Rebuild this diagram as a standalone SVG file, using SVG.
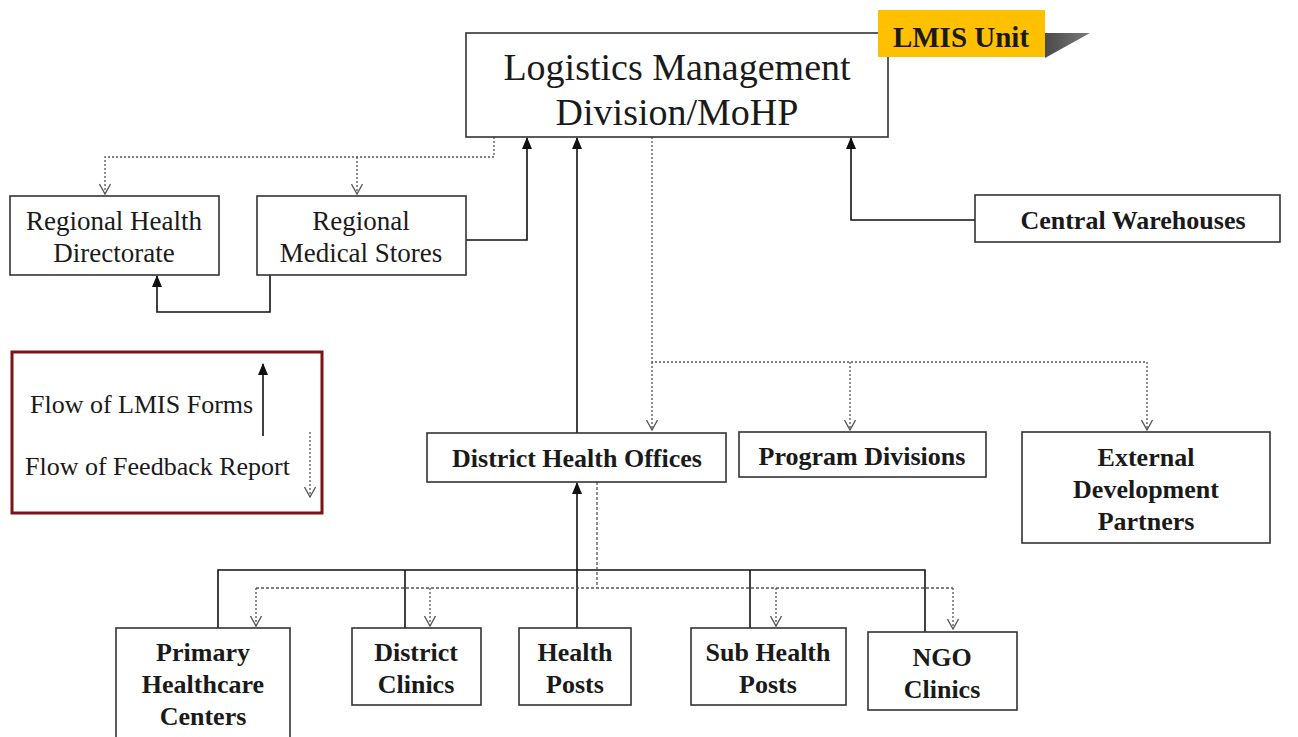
<svg xmlns="http://www.w3.org/2000/svg" width="1298" height="737" viewBox="0 0 1298 737">
  <style>
    .box { fill: #ffffff; stroke: #333333; stroke-width: 1.6; }
    .t { font-family: 'Liberation Serif', 'DejaVu Serif', 'Times New Roman', serif; fill: #1a1a1a; text-anchor: middle; }
    .ts { font-family: 'Liberation Serif', 'DejaVu Serif', 'Times New Roman', serif; fill: #1a1a1a; text-anchor: start; font-size: 26px; }
    .tn { font-size: 27px; }
    .tb { font-size: 26px; font-weight: bold; }
    .big { font-size: 38px; }
    .solid { fill: none; stroke: #111111; stroke-width: 1.6; }
    .dot { fill: none; stroke: #555555; stroke-width: 1.3; stroke-dasharray: 2 2; }
    .dash { fill: none; stroke: #555555; stroke-width: 1.3; stroke-dasharray: 3 2; }
  </style>
  <defs>
    <!-- filled head, drawn along +x so orient="auto" follows the line -->
    <marker id="solidHead" markerWidth="12" markerHeight="10" refX="11" refY="5" orient="auto" markerUnits="userSpaceOnUse" viewBox="0 0 12 10">
      <path d="M0,0 L12,5 L0,10 Z" fill="#111111"/>
    </marker>
    <!-- open chevron head for feedback lines -->
    <marker id="openHead" markerWidth="12" markerHeight="12" refX="11" refY="6" orient="auto" markerUnits="userSpaceOnUse" viewBox="0 0 12 12">
      <path d="M1,0.5 L11,6 L1,11.5" fill="none" stroke="#555555" stroke-width="1.3"/>
    </marker>
    <linearGradient id="shadowGrad" x1="0" y1="0" x2="1" y2="0">
      <stop offset="0" stop-color="#4a4a4a"/>
      <stop offset="1" stop-color="#7a7a7a"/>
    </linearGradient>
  </defs>

  <rect width="1298" height="737" fill="#ffffff"/>

  <!-- connectors -->
  <g id="connectors">
    <!-- feedback from the division to the regional level -->
    <path class="dot" d="M494,137 V157 H105 V194" marker-end="url(#openHead)"/>
    <path class="dot" d="M357,157 V194" marker-end="url(#openHead)"/>
    <!-- reports upward -->
    <path class="solid" d="M466,240 H527 V138" marker-end="url(#solidHead)"/>
    <path class="solid" d="M270,275 V312 H157 V276" marker-end="url(#solidHead)"/>
    <path class="solid" d="M577,433 V138" marker-end="url(#solidHead)"/>
    <path class="solid" d="M975,220 H851 V138" marker-end="url(#solidHead)"/>
    <!-- feedback to district / programs / partners -->
    <path class="dot" d="M652,137 V362 H1147 V430" marker-end="url(#openHead)"/>
    <path class="dot" d="M652,362 V430" marker-end="url(#openHead)"/>
    <path class="dot" d="M850,362 V430" marker-end="url(#openHead)"/>
    <!-- facility level -->
    <path class="solid" d="M218,628 V570 H925 V632"/>
    <path class="solid" d="M405,570 V628"/>
    <path class="solid" d="M750,570 V628"/>
    <path class="solid" d="M577,628 V483" marker-end="url(#solidHead)"/>
    <path class="dash" d="M597,482 V588 M256,588 H953"/>
    <path class="dot" d="M256,588 V626" marker-end="url(#openHead)"/>
    <path class="dot" d="M430,588 V626" marker-end="url(#openHead)"/>
    <path class="dot" d="M776,588 V626" marker-end="url(#openHead)"/>
    <path class="dot" d="M953,588 V629" marker-end="url(#openHead)"/>
  </g>

  <!-- central division -->
  <g id="lmd">
    <rect class="box" x="466" y="33" width="422" height="104"/>
    <text class="t big" x="677" y="80">Logistics Management</text>
    <text class="t big" x="677" y="125">Division/MoHP</text>
  </g>

  <g id="lmis-unit">
    <polygon points="1045,33 1090,33 1045,58" fill="url(#shadowGrad)"/>
    <rect x="878" y="10" width="167" height="47" fill="#ffc000"/>
    <text class="t" x="961" y="47" font-size="29" font-weight="bold">LMIS Unit</text>
  </g>

  <g id="rhd">
    <rect class="box" x="10" y="196" width="209" height="79"/>
    <text class="t tn" x="114" y="230">Regional Health</text>
    <text class="t tn" x="114" y="262">Directorate</text>
  </g>

  <g id="rms">
    <rect class="box" x="257" y="196" width="209" height="79"/>
    <text class="t tn" x="361" y="230">Regional</text>
    <text class="t tn" x="361" y="262">Medical Stores</text>
  </g>

  <g id="central-warehouses">
    <rect class="box" x="975" y="195" width="305" height="47"/>
    <text class="t tb" x="1133" y="229">Central Warehouses</text>
  </g>

  <g id="dho">
    <rect class="box" x="427" y="433" width="299" height="49"/>
    <text class="t tb" x="577" y="467">District Health Offices</text>
  </g>

  <g id="program-divisions">
    <rect class="box" x="739" y="432" width="247" height="45"/>
    <text class="t tb" x="862" y="465">Program Divisions</text>
  </g>

  <g id="edp">
    <rect class="box" x="1022" y="432" width="248" height="111"/>
    <text class="t tb" x="1146" y="466">External</text>
    <text class="t tb" x="1146" y="498">Development</text>
    <text class="t tb" x="1146" y="530">Partners</text>
  </g>

  <g id="legend">
    <rect x="12" y="352" width="310" height="161" fill="#ffffff" stroke="#7a1418" stroke-width="3"/>
    <text class="ts" x="30" y="413">Flow of LMIS Forms</text>
    <text class="ts" x="25" y="475">Flow of Feedback Report</text>
    <path class="solid" d="M263,436 V364" marker-end="url(#solidHead)"/>
    <path class="dot" d="M310,432 V497" marker-end="url(#openHead)"/>
  </g>

  <g id="phc">
    <rect class="box" x="116" y="628" width="174" height="112"/>
    <text class="t tb" x="203" y="661">Primary</text>
    <text class="t tb" x="203" y="693">Healthcare</text>
    <text class="t tb" x="203" y="725">Centers</text>
  </g>

  <g id="district-clinics">
    <rect class="box" x="352" y="628" width="129" height="77"/>
    <text class="t tb" x="416" y="661">District</text>
    <text class="t tb" x="416" y="693">Clinics</text>
  </g>

  <g id="health-posts">
    <rect class="box" x="519" y="628" width="112" height="77"/>
    <text class="t tb" x="575" y="661">Health</text>
    <text class="t tb" x="575" y="693">Posts</text>
  </g>

  <g id="sub-health-posts">
    <rect class="box" x="691" y="628" width="155" height="77"/>
    <text class="t tb" x="768" y="661">Sub Health</text>
    <text class="t tb" x="768" y="693">Posts</text>
  </g>

  <g id="ngo-clinics">
    <rect class="box" x="868" y="632" width="149" height="78"/>
    <text class="t tb" x="942" y="666">NGO</text>
    <text class="t tb" x="942" y="698">Clinics</text>
  </g>
</svg>
